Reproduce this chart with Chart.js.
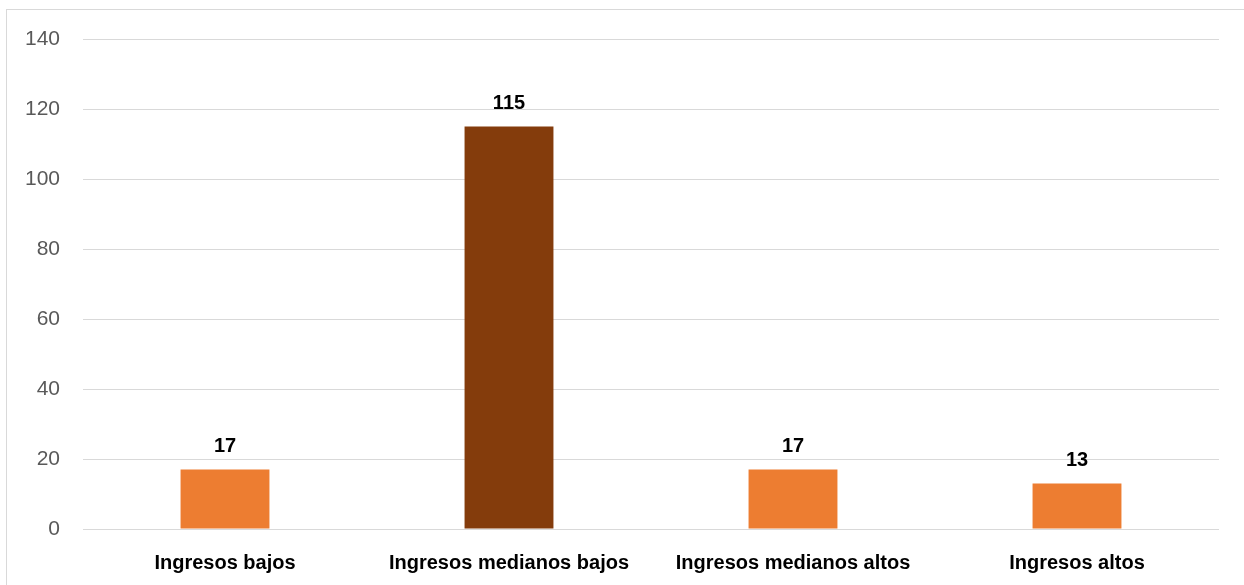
<!DOCTYPE html>
<html>
<head>
<meta charset="utf-8">
<script src="https://cdn.jsdelivr.net/npm/chart.js@4/dist/chart.umd.min.js"></script>
<style>
  html, body { margin: 0; padding: 0; background: #fff; overflow: hidden; }
  #frame { position: absolute; left: 6px; top: 9px; width: 1400px; height: 700px; border: 1px solid #d9d9d9; box-sizing: border-box; }
  #wrap { position: absolute; left: 0; top: 0; width: 1244px; height: 585px; }
</style>
</head>
<body>
<div id="frame"></div>
<div id="wrap"><canvas id="barChart" width="1244" height="585"></canvas></div>
<script>
// Chart data
const categories = ['Ingresos bajos', 'Ingresos medianos bajos', 'Ingresos medianos altos', 'Ingresos altos'];
const counts = [17, 115, 17, 13];
const yTicks = [0, 20, 40, 60, 80, 100, 120, 140];

const orange = '#ED7D31';
const brown = '#843C0C';

// Draws the value above each bar
const valueLabels = {
    id: 'valueLabels',
    afterDatasetsDraw(chart) {
        const ctx = chart.ctx;
        const meta = chart.getDatasetMeta(0);
        ctx.save();
        ctx.font = 'bold 20px "Liberation Sans", Arial, sans-serif';
        ctx.fillStyle = '#000';
        ctx.textAlign = 'center';
        ctx.textBaseline = 'alphabetic';
        meta.data.forEach((bar, i) => {
            ctx.fillText(String(counts[i]), bar.x, bar.y - 18);
        });
        ctx.restore();
    }
};

const ctx = document.getElementById('barChart').getContext('2d');
const chart = new Chart(ctx, {
    type: 'bar',
    data: {
        labels: categories,
        datasets: [{
            data: counts,
            backgroundColor: counts.map((v, i) => i === 1 ? brown : orange),
            categoryPercentage: 1,
            barPercentage: 0.313
        }]
    },
    options: {
        responsive: false,
        animation: false,
        layout: { padding: { top: 39, right: 25, left: 0, bottom: 0 } },
        plugins: {
            legend: { display: false },
            tooltip: { enabled: false }
        },
        scales: {
            x: {
                grid: { display: false },
                border: { display: false },
                ticks: {
                    color: '#000',
                    font: { family: '"Liberation Sans", Arial, sans-serif', size: 20, weight: 'bold' },
                    padding: 14,
                    maxRotation: 0
                },
                afterFit(scale) { scale.height = 56; }
            },
            y: {
                min: 0,
                max: 140,
                afterBuildTicks(scale) { scale.ticks = yTicks.map(v => ({ value: v })); },
                grid: { color: '#d9d9d9', lineWidth: 1, drawTicks: false },
                border: { display: false },
                ticks: {
                    color: '#595959',
                    font: { family: '"Liberation Sans", Arial, sans-serif', size: 21 },
                    padding: 23
                },
                afterFit(scale) { scale.width = 83; }
            }
        }
    },
    plugins: [valueLabels]
});
</script>
</body>
</html>
